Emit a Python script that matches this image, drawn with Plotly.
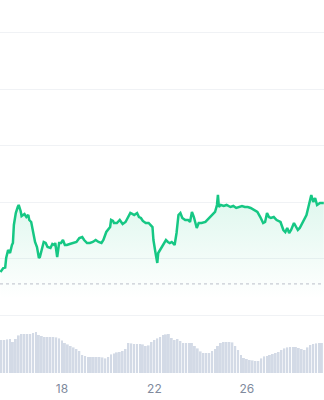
import plotly.graph_objects as go
import pandas as pd

# ---- price series (hourly-ish samples) ----
price_times = [
    "2024-03-15 08:00", "2024-03-15 11:00", "2024-03-15 13:00", "2024-03-15 14:00",
    "2024-03-15 16:00", "2024-03-15 18:00", "2024-03-15 20:00", "2024-03-15 21:00",
    "2024-03-15 22:00", "2024-03-16 00:00", "2024-03-16 02:00", "2024-03-16 03:00",
    "2024-03-16 05:00", "2024-03-16 06:00", "2024-03-16 09:00", "2024-03-16 11:00",
    "2024-03-16 13:00", "2024-03-16 14:00", "2024-03-16 16:00", "2024-03-16 18:00",
    "2024-03-16 20:00", "2024-03-16 22:00", "2024-03-17 00:00", "2024-03-17 01:00",
    "2024-03-17 03:00", "2024-03-17 05:00", "2024-03-17 07:00", "2024-03-17 09:00",
    "2024-03-17 12:00", "2024-03-17 14:00", "2024-03-17 16:00", "2024-03-17 17:00",
    "2024-03-17 19:00", "2024-03-17 21:00", "2024-03-17 23:00", "2024-03-18 01:00",
    "2024-03-18 03:00", "2024-03-18 05:00", "2024-03-18 08:00", "2024-03-18 11:00",
    "2024-03-18 15:00", "2024-03-18 18:00", "2024-03-18 21:00", "2024-03-18 23:00",
    "2024-03-19 02:00", "2024-03-19 05:00", "2024-03-19 08:00", "2024-03-19 11:00",
    "2024-03-19 14:00", "2024-03-19 17:00", "2024-03-19 19:00", "2024-03-19 22:00",
    "2024-03-20 00:00", "2024-03-20 02:00", "2024-03-20 03:00", "2024-03-20 05:00",
    "2024-03-20 06:00", "2024-03-20 09:00", "2024-03-20 12:00", "2024-03-20 15:00",
    "2024-03-20 18:00", "2024-03-20 21:00", "2024-03-20 23:00", "2024-03-21 01:00",
    "2024-03-21 03:00", "2024-03-21 06:00", "2024-03-21 08:00", "2024-03-21 10:00",
    "2024-03-21 12:00", "2024-03-21 15:00", "2024-03-21 18:00", "2024-03-21 22:00",
    "2024-03-21 23:00", "2024-03-22 01:00", "2024-03-22 03:00", "2024-03-22 04:00",
    "2024-03-22 07:00", "2024-03-22 09:00", "2024-03-22 12:00", "2024-03-22 14:00",
    "2024-03-22 16:00", "2024-03-22 18:00", "2024-03-22 21:00", "2024-03-22 23:00",
    "2024-03-23 01:00", "2024-03-23 03:00", "2024-03-23 05:00", "2024-03-23 08:00",
    "2024-03-23 11:00", "2024-03-23 13:00", "2024-03-23 15:00", "2024-03-23 17:00",
    "2024-03-23 19:00", "2024-03-23 20:00", "2024-03-23 22:00", "2024-03-24 01:00",
    "2024-03-24 05:00", "2024-03-24 07:00", "2024-03-24 10:00", "2024-03-24 13:00",
    "2024-03-24 15:00", "2024-03-24 17:00", "2024-03-24 18:00", "2024-03-24 19:00",
    "2024-03-24 21:00", "2024-03-25 00:00", "2024-03-25 03:00", "2024-03-25 07:00",
    "2024-03-25 10:00", "2024-03-25 13:00", "2024-03-25 16:00", "2024-03-25 19:00",
    "2024-03-25 22:00", "2024-03-26 01:00", "2024-03-26 04:00", "2024-03-26 07:00",
    "2024-03-26 11:00", "2024-03-26 14:00", "2024-03-26 17:00", "2024-03-26 19:00",
    "2024-03-26 21:00", "2024-03-26 23:00", "2024-03-27 01:00", "2024-03-27 04:00",
    "2024-03-27 07:00", "2024-03-27 11:00", "2024-03-27 14:00", "2024-03-27 16:00",
    "2024-03-27 18:00", "2024-03-27 20:00", "2024-03-27 22:00", "2024-03-28 01:00",
    "2024-03-28 03:00", "2024-03-28 05:00", "2024-03-28 07:00", "2024-03-28 10:00",
    "2024-03-28 14:00", "2024-03-28 16:00", "2024-03-28 19:00", "2024-03-28 21:00",
    "2024-03-28 23:00", "2024-03-29 01:00", "2024-03-29 04:00", "2024-03-29 08:00",
]

prices = [
    63770, 63841, 63850, 64018, 64159, 64106, 64248, 64283,
    64602, 64814, 64920, 64956, 64850, 64761, 64797, 64743,
    64779, 64690, 64655, 64460, 64301, 64212, 64018, 64035,
    64159, 64301, 64283, 64212, 64195, 64266, 64248, 64283,
    64035, 64283, 64283, 64336, 64248, 64248, 64266, 64283,
    64301, 64372, 64389, 64336, 64283, 64283, 64301, 64336,
    64301, 64283, 64336, 64478, 64513, 64566, 64690, 64673,
    64637, 64637, 64690, 64620, 64655, 64743, 64814, 64797,
    64779, 64814, 64743, 64726, 64673, 64637, 64637, 64566,
    64336, 64124, 63929, 64106, 64195, 64248, 64336, 64301,
    64283, 64301, 64248, 64460, 64779, 64814, 64726, 64690,
    64690, 64655, 64832, 64743, 64637, 64549, 64637, 64637,
    64655, 64690, 64726, 64779, 64832, 64956, 65133, 64920,
    64956, 64938, 64956, 64920, 64938, 64903, 64920, 64938,
    64920, 64920, 64903, 64867, 64832, 64743, 64637, 64655,
    64814, 64743, 64726, 64743, 64690, 64655, 64513, 64478,
    64549, 64460, 64513, 64637, 64566, 64513, 64549, 64637,
    64779, 64920, 65133, 65009, 65080, 64956, 64991, 64991,
]

# reference (previous close) level shown as dotted line
reference_price = 63560

# ---- volume series (3-hour bars, billions) ----
volume_start = "2024-03-15 09:00"
volumes = [
    1.65, 1.65, 1.68, 1.70, 1.55, 1.70, 1.88, 1.95, 1.95, 1.95,
    1.95, 2.00, 2.05, 1.90, 1.85, 1.80, 1.80, 1.80, 1.80, 1.78,
    1.73, 1.63, 1.50, 1.43, 1.35, 1.28, 1.20, 1.10, 0.90, 0.85,
    0.80, 0.80, 0.80, 0.80, 0.80, 0.78, 0.73, 0.80, 0.93, 0.98,
    1.03, 1.05, 1.10, 1.20, 1.50, 1.48, 1.45, 1.45, 1.45, 1.43,
    1.35, 1.38, 1.55, 1.65, 1.73, 1.80, 1.90, 1.93, 1.95, 1.75,
    1.65, 1.70, 1.60, 1.50, 1.50, 1.50, 1.50, 1.35, 1.23, 1.08,
    1.00, 1.00, 1.00, 1.10, 1.20, 1.35, 1.50, 1.55, 1.55, 1.55,
    1.53, 1.35, 1.15, 0.90, 0.75, 0.70, 0.65, 0.63, 0.60, 0.60,
    0.73, 0.83, 0.85, 0.90, 0.95, 1.00, 1.05, 1.15, 1.23, 1.28,
    1.30, 1.30, 1.30, 1.25, 1.20, 1.15, 1.28, 1.40, 1.45, 1.48,
    1.50, 1.50,
]
volume_times = pd.date_range(volume_start, periods=len(volumes), freq="3h")

# ---- axis ticks ----
tick_dates = ["2024-03-18", "2024-03-22", "2024-03-26"]
tick_labels = ["18", "22", "26"]
grid_levels = [63000, 64000, 65000, 66000, 67000, 68000]

GREEN = "#16c784"

fig = go.Figure()

fig.add_trace(go.Bar(
    x=volume_times, y=volumes, yaxis="y2",
    marker=dict(color="#d3dae6", line=dict(width=0)),
    hoverinfo="skip",
))

fig.add_trace(go.Scatter(
    x=price_times, y=prices, mode="lines",
    line=dict(color=GREEN, width=2.5),
    fill="tozeroy",
    fillgradient=dict(
        type="vertical",
        colorscale=[[0, "rgba(22,199,132,0)"], [1, "rgba(22,199,132,0.13)"]],
        start=63300, stop=65000,
    ),
    hoverinfo="skip",
))

fig.add_hline(y=reference_price, line=dict(color="#c8ccd3", width=1.2, dash="dot"))

fig.update_layout(
    width=324, height=400,
    margin=dict(l=0, r=0, t=0, b=27),
    paper_bgcolor="white", plot_bgcolor="white",
    showlegend=False,
    bargap=0.33,
    font=dict(family="Inter", size=12, color="#808a9d"),
    xaxis=dict(
        type="date",
        range=["2024-03-15 07:35", "2024-03-29 08:12"],
        tickmode="array", tickvals=tick_dates, ticktext=tick_labels,
        showgrid=False, zeroline=False, showline=False, ticks="",
        ticklabelstandoff=7,
        tickfont=dict(family="Inter", size=12, color="#808a9d"),
    ),
    yaxis=dict(
        range=[61982, 68584],
        tickmode="array", tickvals=grid_levels,
        showticklabels=False, showgrid=True, gridcolor="#f0f2f5", gridwidth=1,
        zeroline=False, showline=False,
    ),
    yaxis2=dict(
        overlaying="y", range=[0, 18.65],
        visible=False, showgrid=False, zeroline=False,
    ),
)

fig.write_html("out.html", config={"displayModeBar": False})
